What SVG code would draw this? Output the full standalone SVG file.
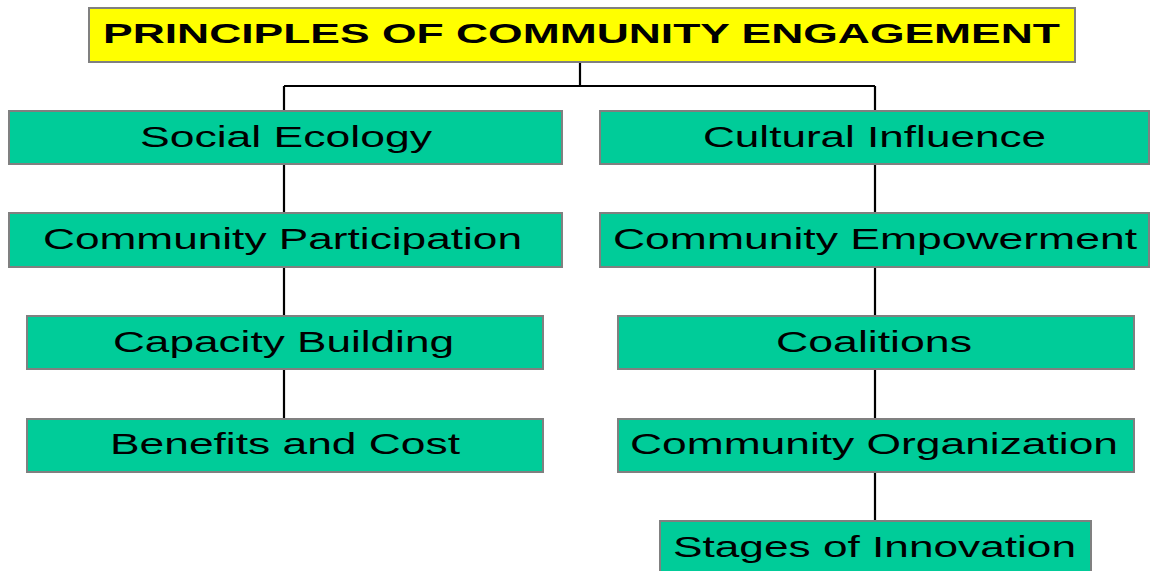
<svg xmlns="http://www.w3.org/2000/svg" width="1150" height="571" viewBox="0 0 1150 571">
  <style>
    .box { fill: #00CC99; stroke: #808080; stroke-width: 2; }
    .head { fill: #FFFF00; stroke: #808080; stroke-width: 2; }
    .lbl { font-family: "Liberation Sans", Arial, sans-serif; font-size: 30px; fill: #000; text-anchor: middle; }
    .ttl { font-family: "Liberation Sans", Arial, sans-serif; font-size: 28px; font-weight: bold; fill: #000; text-anchor: middle; }
    .wire { fill: none; stroke: #000; stroke-width: 2.2; }
  </style>
  <rect width="1150" height="571" fill="#fff"/>

  <!-- tree lines, drawn beneath the boxes -->
  <g id="connectors">
    <path class="wire" d="M580 62 V86 M284 86 H875 M284 86 V418 M875 86 V520"/>
  </g>

  <g id="title">
    <rect class="head" x="89" y="8" width="986" height="54"/>
    <text class="ttl" x="581.5" y="43" textLength="957" lengthAdjust="spacingAndGlyphs">PRINCIPLES OF COMMUNITY ENGAGEMENT</text>
  </g>

  <!-- left branch -->
  <g id="social-ecology">
    <rect class="box" x="9" y="111" width="553" height="53"/>
    <text class="lbl" x="286" y="146.5" textLength="292" lengthAdjust="spacingAndGlyphs">Social Ecology</text>
  </g>
  <g id="community-participation">
    <rect class="box" x="9" y="213" width="553" height="54"/>
    <text class="lbl" x="282.5" y="249" textLength="479" lengthAdjust="spacingAndGlyphs">Community Participation</text>
  </g>
  <g id="capacity-building">
    <rect class="box" x="27" y="316" width="516" height="53"/>
    <text class="lbl" x="283.5" y="352" textLength="341" lengthAdjust="spacingAndGlyphs">Capacity Building</text>
  </g>
  <g id="benefits-and-cost">
    <rect class="box" x="27" y="419" width="516" height="53"/>
    <text class="lbl" x="285" y="454" textLength="350" lengthAdjust="spacingAndGlyphs">Benefits and Cost</text>
  </g>

  <!-- right branch -->
  <g id="cultural-influence">
    <rect class="box" x="600" y="111" width="549" height="53"/>
    <text class="lbl" x="874.5" y="146.5" textLength="343" lengthAdjust="spacingAndGlyphs">Cultural Influence</text>
  </g>
  <g id="community-empowerment">
    <rect class="box" x="600" y="213" width="549" height="54"/>
    <text class="lbl" x="875" y="249" textLength="524" lengthAdjust="spacingAndGlyphs">Community Empowerment</text>
  </g>
  <g id="coalitions">
    <rect class="box" x="618" y="316" width="516" height="53"/>
    <text class="lbl" x="874" y="352" textLength="196" lengthAdjust="spacingAndGlyphs">Coalitions</text>
  </g>
  <g id="community-organization">
    <rect class="box" x="618" y="419" width="516" height="53"/>
    <text class="lbl" x="874" y="454" textLength="488" lengthAdjust="spacingAndGlyphs">Community Organization</text>
  </g>
  <g id="stages-of-innovation">
    <rect class="box" x="660" y="521" width="431" height="56"/>
    <text class="lbl" x="874.5" y="557" textLength="403" lengthAdjust="spacingAndGlyphs">Stages of Innovation</text>
  </g>
</svg>
